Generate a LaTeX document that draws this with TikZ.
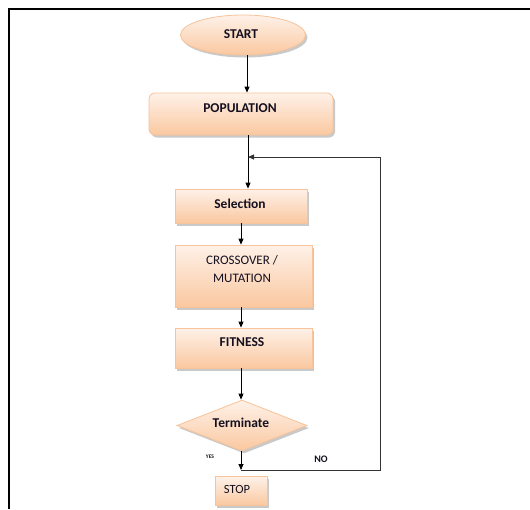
\documentclass[tikz,border=0pt]{standalone}
\usepackage{fontspec}
\setmainfont{Carlito}
\usetikzlibrary{shapes.geometric,shadows,arrows.meta}
\definecolor{peachTop}{HTML}{FEF1E8}
\definecolor{peachBot}{HTML}{FAC8A0}
\definecolor{peachLine}{HTML}{F7C39A}
\definecolor{txt}{HTML}{141020}
\tikzset{
  fcbox/.style={draw=peachLine, line width=0.8pt, top color=peachTop, bottom color=peachBot,
    inner sep=0pt, drop shadow={shadow xshift=2pt, shadow yshift=-2.5pt, opacity=0.35, fill=black!60}},
  lbl/.style={text=txt, font=\fontsize{13.5}{15}\selectfont\bfseries, inner sep=0pt, align=center},
  lblr/.style={text=txt, font=\fontsize{13}{15}\selectfont, inner sep=0pt, align=center},
  flow/.style={draw=black, line width=0.8pt, -{Triangle[length=6pt,width=5pt]}},
  loopline/.style={draw=black!80, line width=0.8pt},
}
\begin{document}
\begin{tikzpicture}[x=1pt,y=-1pt]
\useasboundingbox (0,0) rectangle (530,509);
\fill[white] (0,0) rectangle (530,509);
% frame
\draw[line width=2pt] (9,509) -- (9,9) -- (530,9);

% shapes
\node[fcbox, ellipse, minimum width=125pt, minimum height=40pt] (start) at (243,35) {};
\node[fcbox, rectangle, rounded corners=6pt, minimum width=184pt, minimum height=42pt] (pop) at (241,114) {};
\node[fcbox, rectangle, minimum width=132pt, minimum height=34pt] (sel) at (241,206) {};
\node[fcbox, rectangle, minimum width=137pt, minimum height=62pt] (cross) at (243.5,276) {};
\node[fcbox, rectangle, minimum width=137pt, minimum height=40pt] (fit) at (243.5,348) {};
\node[fcbox, diamond, minimum width=130pt, minimum height=51pt] (term) at (242,425.5) {};
\node[fcbox, rectangle, minimum width=52pt, minimum height=29pt] (stop) at (241,491) {};

% texts
\node[lbl] (tstart) at (241,34) {START};
\node[lbl] (tpop) at (240,108) {POPULATION};
\node[lbl] (tsel) at (240,204) {Selection};
\node[lblr, font=\fontsize{13}{18}\selectfont] (tcross) at (242,269) {CROSSOVER /\\MUTATION};
\node[lbl] (tfit) at (242,342) {FITNESS};
\node[lbl] (tterm) at (241,423) {Terminate};
\node[lblr, font=\fontsize{12.5}{14}\selectfont] (tstop) at (237,489) {STOP};
\node[text=txt, font=\fontsize{5.5}{6}\selectfont\bfseries, inner sep=0pt] (tyes) at (210,457) {YES};
\node[text=txt, font=\fontsize{10}{12}\selectfont\bfseries, inner sep=0pt] (tno) at (321,459) {NO};

% connectors
\coordinate (j1) at (248,157);
\coordinate (j2) at (241,470);
\coordinate (rtop) at (380,157);
\coordinate (rbot) at (380,470);
\draw[flow] (start.south -| 247,0) -- (pop.north -| 247,0);
\draw[flow] (pop.south -| 248,0) -- (sel.north -| 248,0);
\draw[flow] (sel.south -| 241,0) -- (cross.north -| 241,0);
\draw[flow] (cross.south -| 241,0) -- (fit.north -| 241,0);
\draw[flow] (fit.south -| 241,0) -- (term.north -| 241,0);
\draw[flow] (term.south -| 241,0) -- (j2);
\draw[loopline] (j2) -- (rbot) -- (rtop);
\draw[flow, draw=black!80] (rtop) -- (j1);
\end{tikzpicture}
\end{document}
